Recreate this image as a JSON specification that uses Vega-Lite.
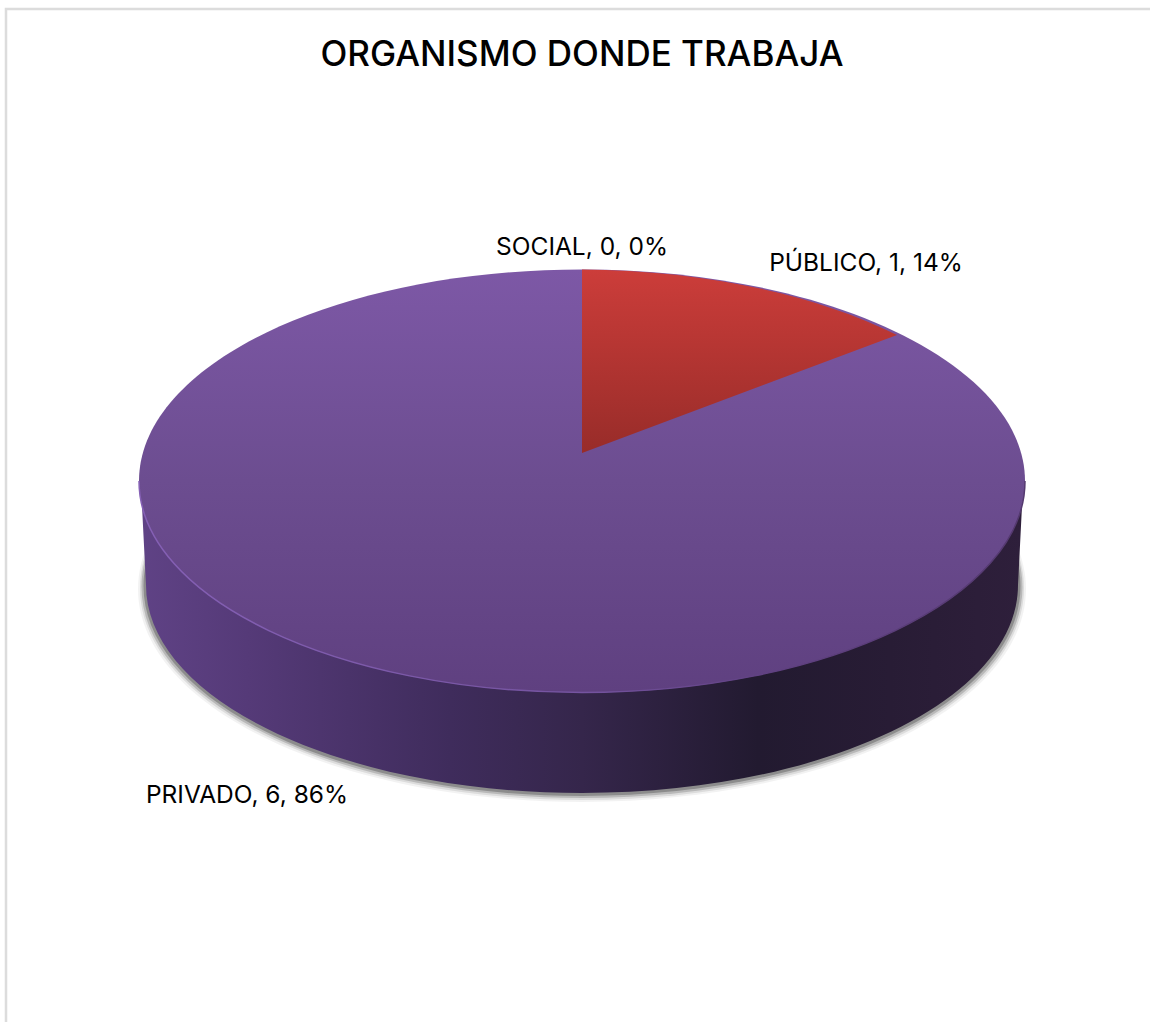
{
"$schema":"https://vega.github.io/schema/vega-lite/v6.json",
"width":1150,"height":1022,"padding":0,"autosize":"none",
"background":"white",
"view":{"stroke":null},
"title":{"text":"ORGANISMO DONDE TRABAJA","font":"Inter","fontSize":35,"fontWeight":500,"color":"#000000","anchor":"middle","frame":"group","offset":-101,"dx":7,"baseline":"alphabetic"},
"data":{"values":[
{"categoria":"SOCIAL","valor":0,"porcentaje":0,"etiqueta":"SOCIAL, 0, 0%"},
{"categoria":"PÚBLICO","valor":1,"porcentaje":14,"etiqueta":"PÚBLICO, 1, 14%"},
{"categoria":"PRIVADO","valor":6,"porcentaje":86,"etiqueta":"PRIVADO, 6, 86%"}
]},
"layer":[
{"transform":[{"filter":"datum.categoria==='PRIVADO'"}],
 "mark":{"type":"point","size":4,"filled":false,"fill":null,"opacity":1,"stroke":"#dcdcdc","strokeWidth":2.5,"shape":"M-569,511 L-569,-502 L575,-502"},"encoding":{}},
{"transform":[{"filter":"datum.categoria==='PRIVADO'"}],
 "mark":{"type":"point","size":4,"filled":true,"fill":"#000000","opacity":0.05,"shape":"M-437,78 A444,213 0 1 0 451,78 A444,213 0 1 0 -437,78 Z"},"encoding":{}},
{"transform":[{"filter":"datum.categoria==='PRIVADO'"}],
 "mark":{"type":"point","size":4,"filled":true,"fill":"#000000","opacity":0.09,"shape":"M-435,77 A442,212 0 1 0 449,77 A442,212 0 1 0 -435,77 Z"},"encoding":{}},
{"transform":[{"filter":"datum.categoria==='PRIVADO'"}],
 "mark":{"type":"point","size":4,"filled":true,"fill":"#000000","opacity":0.16,"shape":"M-433.5,76 A440.5,211 0 1 0 447.5,76 A440.5,211 0 1 0 -433.5,76 Z"},"encoding":{}},
{"transform":[{"filter":"datum.categoria==='PRIVADO'"}],
 "mark":{"type":"point","size":4,"filled":true,"fill":"#000000","opacity":0.24,"shape":"M-431.5,75 A438.5,210 0 1 0 445.5,75 A438.5,210 0 1 0 -431.5,75 Z"},"encoding":{}},
{"transform":[{"filter":"datum.categoria==='PRIVADO'"}],
 "mark":{"type":"point","size":4,"filled":true,"opacity":1,
 "fill":{"gradient":"linear","x1":0,"y1":0,"x2":1,"y2":0,"stops":[
  {"offset":0,"color":"#5f4285"},{"offset":0.12,"color":"#553a78"},{"offset":0.35,"color":"#3f2c5c"},{"offset":0.5,"color":"#35264b"},{"offset":0.7,"color":"#221a30"},{"offset":0.85,"color":"#281c35"},{"offset":1,"color":"#2e1f3b"}]},
 "shape":"M-433,-5 L-429,74 A436,208 0 0 0 443,74 L447,-5 Z"},"encoding":{}},
{"transform":[{"filter":"datum.categoria==='PRIVADO'"}],
 "mark":{"type":"point","size":4,"filled":true,"opacity":1,
 "fill":{"gradient":"linear","x1":0,"y1":0,"x2":0,"y2":1,"stops":[
  {"offset":0,"color":"#7d58a6"},{"offset":0.5,"color":"#6c4d90"},{"offset":1,"color":"#5f4080"}]},
 "shape":"M-436,-30 A443,211.5 0 1 1 450,-30 A443,211.5 0 1 1 -436,-30 Z"},"encoding":{}},
{"transform":[{"filter":"datum.categoria==='PRIVADO'"}],
 "mark":{"type":"point","size":4,"filled":false,"fill":null,"opacity":1,"strokeWidth":1.5,
 "stroke":{"gradient":"linear","x1":0,"y1":0,"x2":1,"y2":0,"stops":[
  {"offset":0,"color":"#8560b5"},{"offset":0.5,"color":"#7554a0"},{"offset":0.72,"color":"#5f4080"},{"offset":1,"color":"#54396f"}]},
 "shape":"M-436,-30 A443,211.5 0 0 0 450,-30"},"encoding":{}},
{"transform":[{"filter":"datum.categoria==='PÚBLICO'"}],
 "mark":{"type":"point","size":4,"filled":true,"opacity":1,
 "fill":{"gradient":"linear","x1":0,"y1":0,"x2":0,"y2":1,"stops":[
  {"offset":0,"color":"#cc3d3a"},{"offset":1,"color":"#982c29"}]},
 "shape":"M7,-58 L7,-241.5 A443,211.5 0 0 1 322,-176 Z"},"encoding":{}},
{"mark":{"type":"text","font":"Inter","fontSize":24.5,"fontWeight":400,"color":"#000000","align":"center","baseline":"alphabetic"},
 "encoding":{
  "x":{"field":"valor","type":"quantitative","axis":null,"scale":{"domain":[0,1,6],"range":[582,866,247],"nice":false,"zero":false}},
  "y":{"field":"valor","type":"quantitative","axis":null,"scale":{"domain":[0,1,6],"range":[255,271,803],"nice":false,"zero":false}},
  "text":{"field":"etiqueta","type":"nominal"}}}
]
}
